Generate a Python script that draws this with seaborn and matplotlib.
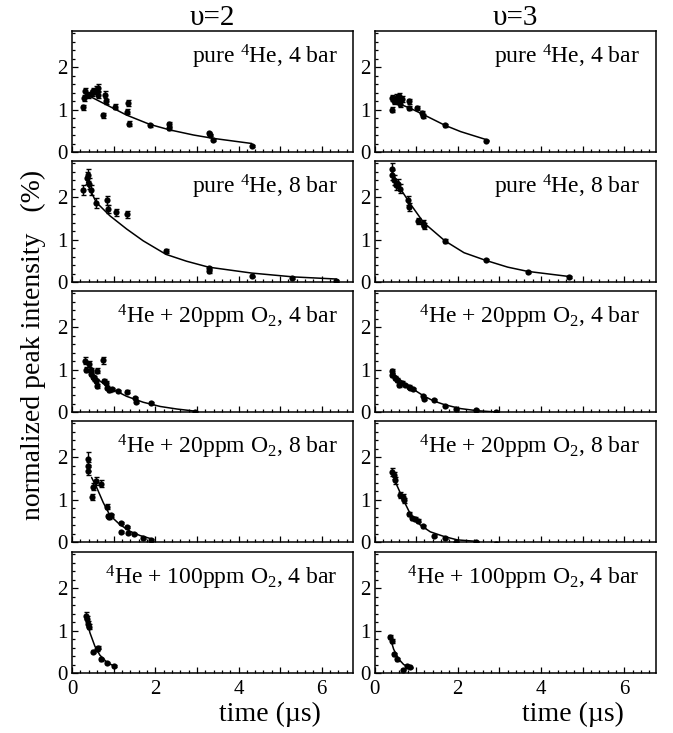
import numpy as np
import pandas as pd
import matplotlib
matplotlib.use("Agg")
import matplotlib.pyplot as plt
import seaborn as sns
from matplotlib.ticker import MultipleLocator, FuncFormatter

# ---------------- data ----------------
column_titles = ["\u03c5=2", "\u03c5=3"]
panel_labels = ["pure $^{4}$He, 4 bar",
                "pure $^{4}$He, 8 bar",
                "$^{4}$He + 20ppm O$_{2}$, 4 bar",
                "$^{4}$He + 20ppm O$_{2}$, 8 bar",
                "$^{4}$He + 100ppm O$_{2}$, 4 bar"]
x_ticks_labeled = [0, 2, 4, 6]
y_ticks_labeled = [0, 1, 2]

# v=2, pure 4He, 4 bar
v2_p4_x = [0.27, 0.30, 0.32, 0.39, 0.47, 0.51, 0.58, 0.62, 0.63, 0.75, 0.79, 0.81, 1.04, 1.31, 1.35, 1.38, 1.87, 2.32, 2.32, 3.28, 3.32, 3.38, 4.32]
v2_p4_y = [1.05, 1.27, 1.43, 1.35, 1.39, 1.43, 1.47, 1.51, 1.35, 0.87, 1.35, 1.19, 1.07, 0.95, 1.15, 0.67, 0.63, 0.65, 0.57, 0.44, 0.40, 0.28, 0.14]
v2_p4_e = [0.06, 0.08, 0.08, 0.07, 0.07, 0.07, 0.08, 0.08, 0.07, 0.06, 0.08, 0.07, 0.06, 0.06, 0.07, 0.05, 0.03, 0.05, 0.05, 0.03, 0.03, 0.03, 0.02]
v2_p4_cx = [0.43, 0.75, 1.31, 1.87, 2.35, 2.92, 3.40, 4.32]
v2_p4_cy = [1.31, 1.15, 0.87, 0.65, 0.52, 0.40, 0.32, 0.20]

# v=3, pure 4He, 4 bar
v3_p4_x = [0.42, 0.43, 0.48, 0.52, 0.56, 0.60, 0.62, 0.66, 0.82, 0.83, 1.02, 1.14, 1.16, 1.69, 2.69]
v3_p4_y = [1.27, 1.00, 1.20, 1.28, 1.20, 1.32, 1.12, 1.24, 1.20, 1.03, 1.03, 0.92, 0.84, 0.63, 0.27]
v3_p4_e = [0.07, 0.05, 0.07, 0.08, 0.07, 0.08, 0.07, 0.07, 0.06, 0.05, 0.05, 0.05, 0.05, 0.03, 0.02]
v3_p4_cx = [0.42, 0.86, 1.26, 1.69, 2.07, 2.69]
v3_p4_cy = [1.20, 1.03, 0.84, 0.63, 0.48, 0.29]

# v=2, pure 4He, 8 bar
v2_p8_x = [0.26, 0.35, 0.39, 0.42, 0.45, 0.58, 0.83, 0.86, 1.06, 1.31, 2.26, 3.28, 3.30, 4.32, 5.28, 6.35]
v2_p8_y = [2.16, 2.44, 2.52, 2.32, 2.16, 1.86, 1.92, 1.72, 1.64, 1.59, 0.73, 0.33, 0.25, 0.13, 0.10, 0.03]
v2_p8_e = [0.12, 0.14, 0.15, 0.13, 0.12, 0.11, 0.11, 0.10, 0.08, 0.08, 0.05, 0.03, 0.03, 0.02, 0.02, 0.02]
v2_p8_cx = [0.35, 0.58, 0.91, 1.31, 1.71, 2.26, 2.75, 3.28, 4.32, 5.32, 6.35]
v2_p8_cy = [2.35, 1.88, 1.56, 1.25, 0.97, 0.65, 0.49, 0.35, 0.21, 0.12, 0.07]

# v=3, pure 4He, 8 bar
v3_p8_x = [0.42, 0.43, 0.48, 0.52, 0.57, 0.62, 0.80, 0.83, 1.04, 1.17, 1.18, 1.69, 2.67, 3.68, 4.67]
v3_p8_y = [2.67, 2.52, 2.40, 2.28, 2.32, 2.20, 1.92, 1.76, 1.44, 1.40, 1.33, 0.97, 0.52, 0.24, 0.11]
v3_p8_e = [0.14, 0.12, 0.12, 0.11, 0.11, 0.10, 0.10, 0.09, 0.07, 0.07, 0.07, 0.05, 0.03, 0.02, 0.02]
v3_p8_cx = [0.42, 0.62, 0.86, 1.18, 1.69, 2.15, 2.67, 3.20, 3.68, 4.67]
v3_p8_cy = [2.60, 2.20, 1.84, 1.40, 0.97, 0.69, 0.51, 0.35, 0.25, 0.13]

# v=2, 4He + 20ppm O2, 4 bar
v2_o4_x = [0.31, 0.33, 0.42, 0.45, 0.46, 0.50, 0.54, 0.60, 0.57, 0.60, 0.75, 0.78, 0.82, 0.83, 0.90, 0.95, 1.11, 1.31, 1.51, 1.54, 1.89, 2.96]
v2_o4_y = [1.21, 1.00, 1.14, 0.98, 0.89, 0.83, 0.79, 0.97, 0.73, 0.61, 1.22, 0.73, 0.69, 0.57, 0.51, 0.53, 0.49, 0.48, 0.33, 0.23, 0.21, 0.00]
v2_o4_e = [0.08, 0.06, 0.07, 0.06, 0.05, 0.05, 0.05, 0.06, 0.05, 0.04, 0.08, 0.05, 0.05, 0.04, 0.04, 0.04, 0.03, 0.03, 0.03, 0.02, 0.02, 0.02]
v2_o4_cx = [0.43, 0.67, 0.91, 1.31, 1.71, 2.12, 2.52, 2.96]
v2_o4_cy = [0.97, 0.73, 0.57, 0.37, 0.23, 0.13, 0.07, 0.02]

# v=3, 4He + 20ppm O2, 4 bar
v3_o4_x = [0.42, 0.43, 0.50, 0.55, 0.60, 0.66, 0.73, 0.82, 0.86, 0.92, 1.17, 1.18, 1.42, 1.69, 1.95, 2.43, 2.92]
v3_o4_y = [0.96, 0.88, 0.80, 0.75, 0.64, 0.68, 0.64, 0.60, 0.56, 0.54, 0.37, 0.30, 0.29, 0.14, 0.06, 0.05, 0.00]
v3_o4_e = [0.05, 0.05, 0.04, 0.04, 0.04, 0.04, 0.03, 0.03, 0.03, 0.03, 0.02, 0.02, 0.02, 0.02, 0.02, 0.02, 0.02]
v3_o4_cx = [0.42, 0.66, 0.86, 1.18, 1.42, 1.69, 2.07, 2.47, 2.92]
v3_o4_cy = [0.94, 0.72, 0.58, 0.38, 0.26, 0.17, 0.08, 0.03, 0.00]

# v=2, 4He + 20ppm O2, 8 bar
v2_o8_x = [0.39, 0.39, 0.39, 0.47, 0.51, 0.58, 0.69, 0.83, 0.86, 0.90, 0.93, 1.17, 1.18, 1.31, 1.35, 1.49, 1.71, 1.89]
v2_o8_y = [1.96, 1.78, 1.67, 1.06, 1.30, 1.44, 1.37, 0.83, 0.61, 0.59, 0.63, 0.45, 0.24, 0.35, 0.21, 0.19, 0.10, 0.05]
v2_o8_e = [0.15, 0.10, 0.09, 0.07, 0.08, 0.09, 0.08, 0.06, 0.05, 0.04, 0.04, 0.03, 0.03, 0.03, 0.02, 0.02, 0.02, 0.02]
v2_o8_cx = [0.47, 0.59, 0.75, 0.91, 1.15, 1.40, 1.64, 1.89]
v2_o8_cy = [1.52, 1.29, 0.93, 0.63, 0.41, 0.25, 0.15, 0.08]

# v=3, 4He + 20ppm O2, 8 bar
v3_o8_x = [0.42, 0.46, 0.50, 0.62, 0.68, 0.72, 0.82, 0.90, 0.98, 1.04, 1.17, 1.42, 1.69, 1.95, 2.43, 2.92]
v3_o8_y = [1.65, 1.57, 1.45, 1.10, 1.06, 0.98, 0.66, 0.56, 0.54, 0.50, 0.37, 0.14, 0.10, 0.00, 0.00, -0.04]
v3_o8_e = [0.10, 0.09, 0.08, 0.07, 0.07, 0.06, 0.04, 0.04, 0.04, 0.04, 0.03, 0.02, 0.02, 0.02, 0.02, 0.02]
v3_o8_cx = [0.42, 0.54, 0.70, 0.86, 1.10, 1.34, 1.67, 1.99, 2.39]
v3_o8_cy = [1.69, 1.33, 0.98, 0.66, 0.40, 0.24, 0.13, 0.05, 0.02]

# v=2, 4He + 100ppm O2, 4 bar
v2_h4_x = [0.34, 0.35, 0.39, 0.41, 0.51, 0.59, 0.62, 0.69, 0.83, 1.01]
v2_h4_y = [1.35, 1.27, 1.15, 1.09, 0.50, 0.56, 0.60, 0.32, 0.24, 0.16]
v2_h4_e = [0.08, 0.07, 0.07, 0.06, 0.04, 0.04, 0.04, 0.03, 0.02, 0.02]
v2_h4_cx = [0.34, 0.43, 0.55, 0.67, 0.83, 1.01]
v2_h4_cy = [1.31, 0.95, 0.63, 0.42, 0.26, 0.16]

# v=3, 4He + 100ppm O2, 4 bar
v3_h4_x = [0.38, 0.42, 0.48, 0.54, 0.68, 0.78, 0.86]
v3_h4_y = [0.85, 0.75, 0.44, 0.32, 0.08, 0.16, 0.13]
v3_h4_e = [0.05, 0.05, 0.03, 0.03, 0.02, 0.02, 0.02]
v3_h4_cx = [0.38, 0.46, 0.58, 0.70, 0.86]
v3_h4_cy = [0.82, 0.56, 0.33, 0.20, 0.12]

panels = [
    [(v2_p4_x, v2_p4_y, v2_p4_e, v2_p4_cx, v2_p4_cy), (v3_p4_x, v3_p4_y, v3_p4_e, v3_p4_cx, v3_p4_cy)],
    [(v2_p8_x, v2_p8_y, v2_p8_e, v2_p8_cx, v2_p8_cy), (v3_p8_x, v3_p8_y, v3_p8_e, v3_p8_cx, v3_p8_cy)],
    [(v2_o4_x, v2_o4_y, v2_o4_e, v2_o4_cx, v2_o4_cy), (v3_o4_x, v3_o4_y, v3_o4_e, v3_o4_cx, v3_o4_cy)],
    [(v2_o8_x, v2_o8_y, v2_o8_e, v2_o8_cx, v2_o8_cy), (v3_o8_x, v3_o8_y, v3_o8_e, v3_o8_cx, v3_o8_cy)],
    [(v2_h4_x, v2_h4_y, v2_h4_e, v2_h4_cx, v2_h4_cy), (v3_h4_x, v3_h4_y, v3_h4_e, v3_h4_cx, v3_h4_cy)],
]

# ---------------- style ----------------
sns.set_theme(style="ticks")
plt.rcParams["font.family"] = ["Liberation Serif", "DejaVu Serif"]
plt.rcParams["mathtext.fontset"] = "custom"
plt.rcParams["mathtext.rm"] = "Liberation Serif"
plt.rcParams["mathtext.it"] = "Liberation Serif:italic"
plt.rcParams["mathtext.bf"] = "Liberation Serif:bold"

W, H = 673, 733
fig = plt.figure(figsize=(W / 100, H / 100), dpi=100)
fig.patch.set_facecolor("white")

col_left = [72, 374.5]
xlabel_right = [321, 624]
ax_w = 281
row_top = [31, 161, 291, 421, 552]
ax_h = 121

for r in range(5):
    for c in range(2):
        x, y, e, cx, cy = panels[r][c]
        left = col_left[c] / W
        bottom = 1 - (row_top[r] + ax_h) / H
        ax = fig.add_axes([left, bottom, ax_w / W, ax_h / H])
        ax.errorbar(x, y, yerr=e, fmt="none", ecolor="black", elinewidth=1.0,
                    capsize=1.8, capthick=1.0, zorder=2)
        sns.scatterplot(x=x, y=y, ax=ax, color="black", s=20, linewidth=0,
                        zorder=3, legend=False)
        sns.lineplot(x=cx, y=cy, ax=ax, color="black", linewidth=1.1,
                     sort=False, estimator=None, zorder=4)
        ax.set_xlim(0, 6.75)
        ax.set_ylim(0, 2.85)
        ax.xaxis.set_major_locator(MultipleLocator(1))
        ax.xaxis.set_minor_locator(MultipleLocator(0.2))
        ax.set_yticks(y_ticks_labeled)
        ax.yaxis.set_minor_locator(MultipleLocator(0.2))
        ax.tick_params(axis="both", which="both", direction="in",
                       top=False, right=False, width=0.9, colors="black")
        ax.tick_params(which="major", length=4.5)
        ax.tick_params(which="minor", length=2.2)
        ax.tick_params(axis="y", labelsize=15, pad=3)
        ax.tick_params(axis="x", labelsize=15, pad=5)
        ax.yaxis.set_major_formatter(FuncFormatter(lambda v, p: "%d" % round(v)))
        ax.xaxis.set_major_formatter(
            FuncFormatter(lambda v, p: ("%d" % round(v)) if round(v) in x_ticks_labeled else ""))
        if r < 4:
            ax.tick_params(axis="x", labelbottom=False)
        for s in ax.spines.values():
            s.set_linewidth(1.1)
            s.set_color("black")
        ax.set_xlabel("")
        ax.set_ylabel("")
        ax.text(0.945, 0.90, panel_labels[r], transform=ax.transAxes,
                ha="right", va="top", fontsize=17, color="black")
        if r == 0:
            ax.set_title(column_titles[c], fontsize=21, pad=2, color="black")

for c in range(2):
    fig.text(xlabel_right[c] / W, 1 - 702 / H, "time (\u00b5s)",
             ha="right", va="top", fontsize=20, color="black")

fig.text(33 / W, 1 - 345 / H, "normalized peak intensity   (%)", rotation=90,
         ha="center", va="center", fontsize=20, color="black")

fig.savefig("out.png", dpi=100, facecolor="white")
